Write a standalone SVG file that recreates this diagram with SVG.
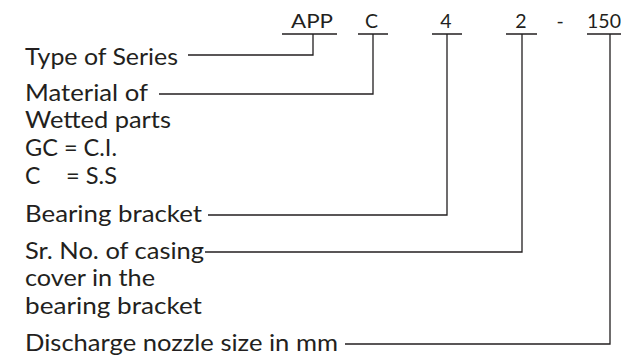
<svg xmlns="http://www.w3.org/2000/svg" width="621" height="358" viewBox="0 0 621 358">
<style>
text{font-family:Lato,"Open Sans","Liberation Sans",sans-serif;font-size:23px;fill:#231f20}
.code{font-size:19.5px;text-anchor:middle}
.ln{fill:none;stroke:#231f20;stroke-width:1.3}
</style>
<rect width="621" height="358" fill="#fff"/>
<g id="code">
<text class="code" x="312" y="28.3" textLength="42" lengthAdjust="spacingAndGlyphs">APP</text>
<text class="code" x="371.5" y="28.3">C</text>
<text class="code" x="446" y="28.3">4</text>
<text class="code" x="521" y="28.3">2</text>
<text class="code" x="560" y="28.3">-</text>
<text class="code" x="604" y="28.3">150</text>
</g>
<g id="series"><text x="25" y="65" textLength="153" lengthAdjust="spacingAndGlyphs">Type of Series</text></g>
<g id="material">
<text x="25" y="100.5" textLength="123" lengthAdjust="spacingAndGlyphs">Material of</text>
<text x="25" y="128.2" textLength="146" lengthAdjust="spacingAndGlyphs">Wetted parts</text>
<text x="25" y="155.9" textLength="92" lengthAdjust="spacingAndGlyphs">GC = C.I.</text>
<text x="25" y="183.6">C</text>
<text x="66" y="183.6" textLength="51" lengthAdjust="spacingAndGlyphs">= S.S</text>
</g>
<g id="bearing"><text x="25" y="222" textLength="177" lengthAdjust="spacingAndGlyphs">Bearing bracket</text></g>
<g id="srno">
<text x="25" y="258.5" textLength="179" lengthAdjust="spacingAndGlyphs">Sr. No. of casing</text>
<text x="25" y="286.2" textLength="130" lengthAdjust="spacingAndGlyphs">cover in the</text>
<text x="25" y="313.9" textLength="177" lengthAdjust="spacingAndGlyphs">bearing bracket</text>
</g>
<g id="nozzle"><text x="25" y="351" textLength="313" lengthAdjust="spacingAndGlyphs">Discharge nozzle size in mm</text></g>
<g id="connectors" class="ln">
<path class="ln" d="M282 34H337M313 34V55H188"/>
<path class="ln" d="M358 34H388M373 34V94H159"/>
<path class="ln" d="M432 34H462M447 34V215H208"/>
<path class="ln" d="M506 34H537M522 34V252H205"/>
<path class="ln" d="M587 34H621M610 34V344H345"/>
</g>
</svg>
